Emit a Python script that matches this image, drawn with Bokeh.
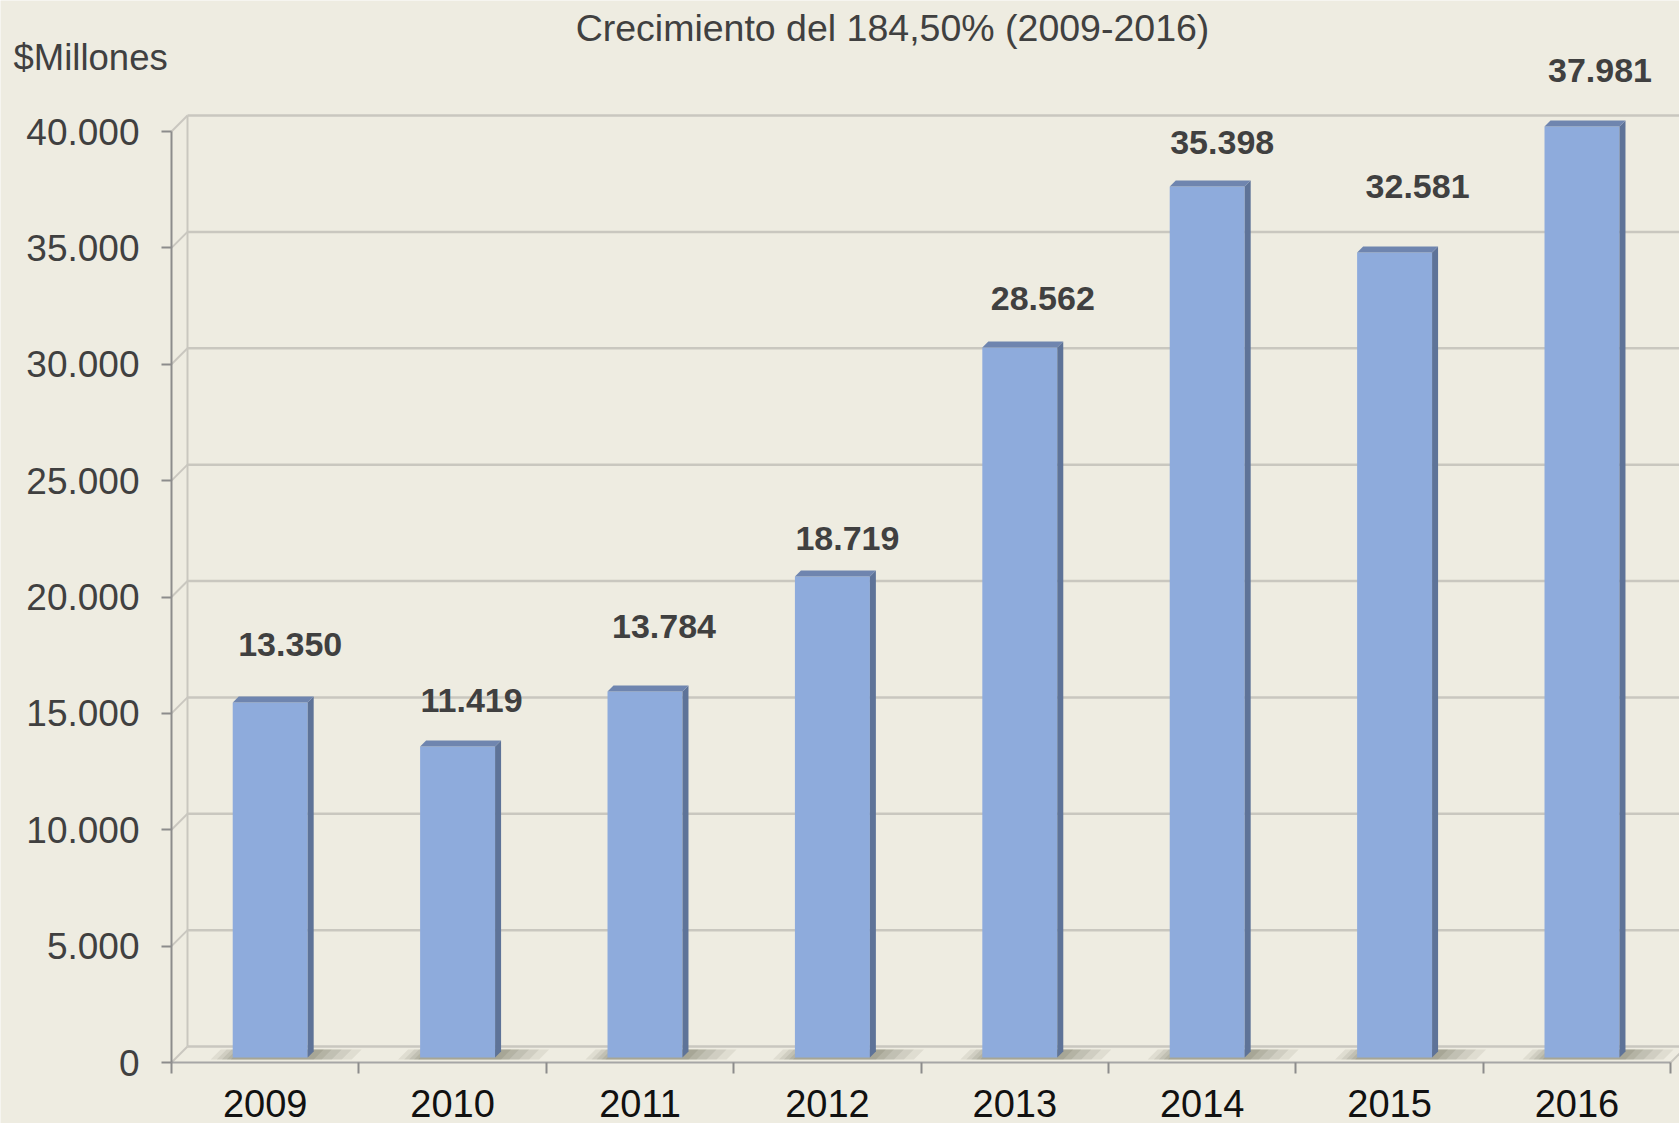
from bokeh.plotting import figure
from bokeh.models import Range1d, FixedTicker, ColumnDataSource
from bokeh.core.properties import value
from bokeh.embed import file_html
from bokeh.resources import INLINE

# ---------------- data ----------------
anios = ["2009", "2010", "2011", "2012", "2013", "2014", "2015", "2016"]
valores = [13350, 11419, 13784, 18719, 28562, 35398, 32581, 37981]          # data labels
alturas = [15250, 13360, 15720, 20670, 30500, 37420, 34590, 40000]          # bar heights read on the axis
ticks_y = [0, 5000, 10000, 15000, 20000, 25000, 30000, 35000, 40000]
titulo = "Crecimiento del 184,50% (2009-2016)"
unidad = "$Millones"

# ---------------- styling / geometry ----------------
W, H = 1679, 1123
AX_L = 171                          # px of the value axis
AX_B = 1062                         # px of the category axis
CAT_PX = 187.4                      # px per category
PX_X = 1.0 / CAT_PX
PX_Y = 40000.0 / 931.0
DEPTH = 16                          # wall depth in px
BAR_D0, BAR_D1 = 5, 11              # bar depth range in px
BAR_W = 0.40
TXT_FIX = 14                        # baseline correction (px)
lab_dx = [25, 19, 24, 20, 28, 20, 28, 23]     # label nudges (px)
lab_gap = [44, 32, 51, 24, 35, 30, 52, 42]    # label baseline above bar top (px)

BG = "#EEECE1"
FRONT = "#8EABDC"
SIDE = "#5E7398"
TOP = "#6F85AF"
GRID = "#C9C7BF"
TXT = "#404040"
FONT = "Liberation Sans"


def fx(px):   # page px -> data x
    return (px - AX_L) * PX_X


def fy(py):   # page px -> data y
    return (AX_B - py) * PX_Y


p = figure(width=W, height=H, output_backend="svg", toolbar_location=None,
           x_range=Range1d(fx(0), fx(W)), y_range=Range1d(fy(H), fy(0)),
           min_border_left=0, min_border_right=0, min_border_top=0, min_border_bottom=0)
p.background_fill_color = BG
p.border_fill_color = BG
p.outline_line_color = None
p.grid.visible = False

n = len(anios)
x_end = fx(W)

# ---------------- walls / gridlines ----------------
dxw = DEPTH * PX_X
dyw = DEPTH * PX_Y
p.segment(x0=[dxw] * len(ticks_y), y0=[t + dyw for t in ticks_y],
          x1=[x_end + 1] * len(ticks_y), y1=[t + dyw for t in ticks_y],
          line_color=GRID, line_width=2.5)
p.segment(x0=[0] * len(ticks_y), y0=ticks_y,
          x1=[dxw] * len(ticks_y), y1=[t + dyw for t in ticks_y],
          line_color=GRID, line_width=2)
p.segment(x0=[dxw], y0=[dyw], x1=[dxw], y1=[ticks_y[-1] + dyw],
          line_color=GRID, line_width=2)
p.segment(x0=[n], y0=[0], x1=[n + dxw], y1=[dyw], line_color=GRID, line_width=2)

# ---------------- floor shadows ----------------
xc = [i + 0.5 for i in range(n)]
for ext_l, ext_r, alpha in [(22, 44, 0.10), (16, 34, 0.11), (11, 24, 0.12), (6, 14, 0.13), (2, 6, 0.14)]:
    xs, ys = [], []
    for c in xc:
        l = c - BAR_W / 2 + BAR_D0 * PX_X - ext_l * PX_X
        r = c + BAR_W / 2 + BAR_D0 * PX_X + ext_r * PX_X
        y0, y1 = 3 * PX_Y, 13 * PX_Y
        xs.append([l, r, r + 10 * PX_X, l + 10 * PX_X])
        ys.append([y0, y0, y1, y1])
    p.patches(xs, ys, fill_color="#5E5A48", fill_alpha=alpha, line_color=None)

# ---------------- bars ----------------
left = [c - BAR_W / 2 + BAR_D0 * PX_X for c in xc]
right = [c + BAR_W / 2 + BAR_D0 * PX_X for c in xc]
base = BAR_D0 * PX_Y
tops = [base + a for a in alturas]
dd = BAR_D1 - BAR_D0
p.quad(left=left, right=right, bottom=[base] * n, top=tops,
       fill_color=FRONT, line_color=None)
side_xs = [[r, r + dd * PX_X, r + dd * PX_X, r] for r in right]
side_ys = [[base, base + dd * PX_Y, t + dd * PX_Y, t] for t in tops]
p.patches(side_xs, side_ys, fill_color=SIDE, line_color=None)
top_xs = [[l, r, r + dd * PX_X, l + dd * PX_X] for l, r in zip(left, right)]
top_ys = [[t, t, t + dd * PX_Y, t + dd * PX_Y] for t in tops]
p.patches(top_xs, top_ys, fill_color=TOP, line_color=None)

# ---------------- data labels ----------------
src = ColumnDataSource(dict(
    x=xc, y=tops,
    txt=[f"{v:,}".replace(",", ".") for v in valores],
    dx=lab_dx, dy=[-g - TXT_FIX for g in lab_gap],
))
p.text(x="x", y="y", text="txt", x_offset="dx", y_offset="dy", source=src,
       text_align="center", text_baseline="alphabetic",
       text_font=value(FONT), text_font_style="bold", text_font_size="34px",
       text_color=TXT)

# ---------------- title & unit ----------------
p.text(x=[fx(892)], y=[fy(41 - TXT_FIX)], text=[titulo], text_align="center",
       text_baseline="alphabetic", text_font=value(FONT), text_font_size="37.5px",
       text_color=TXT)
p.text(x=[fx(13)], y=[fy(71 - TXT_FIX)], text=[unidad], text_align="left",
       text_baseline="alphabetic", text_font=value(FONT), text_font_size="36.5px",
       text_color=TXT)

# ---------------- axes ----------------
yax = p.yaxis[0]
yax.fixed_location = 0
yax.ticker = FixedTicker(ticks=ticks_y)
yax.major_label_overrides = {t: f"{t:,}".replace(",", ".") for t in ticks_y}
yax.bounds = (0, ticks_y[-1])
yax.axis_line_color = "#8C8C8C"
yax.axis_line_width = 2
yax.major_tick_line_color = "#8C8C8C"
yax.major_tick_line_width = 2
yax.major_tick_out = 10
yax.major_tick_in = 0
yax.minor_tick_line_color = None
yax.major_label_standoff = 22
yax.major_label_text_font = FONT
yax.major_label_text_font_size = "37px"
yax.major_label_text_color = TXT

xax = p.xaxis[0]
xax.fixed_location = 0
xax.ticker = FixedTicker(ticks=xc, minor_ticks=list(range(n + 1)))
xax.major_label_overrides = {c: a for c, a in zip(xc, anios)}
xax.bounds = (0, n)
xax.axis_line_color = "#A6A6A6"
xax.axis_line_width = 2
xax.major_tick_line_color = None
xax.major_tick_out = 0
xax.major_tick_in = 0
xax.minor_tick_line_color = "#8C8C8C"
xax.minor_tick_line_width = 2
xax.minor_tick_out = 11
xax.minor_tick_in = 0
xax.major_label_standoff = 16
xax.major_label_text_font = FONT
xax.major_label_text_font_size = "38px"
xax.major_label_text_color = "#111111"
xax.major_label_text_line_height = 1.0

open("out.html", "w").write(file_html(p, INLINE))
